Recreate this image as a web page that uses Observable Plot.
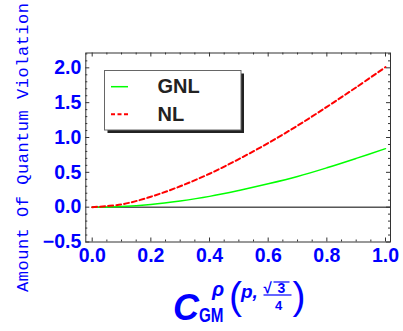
<!DOCTYPE html>
<html><head><meta charset="utf-8">
<script src="https://cdn.jsdelivr.net/npm/d3@7"></script>
<script src="https://cdn.jsdelivr.net/npm/@observablehq/plot@0.6"></script>
<style>body{margin:0;background:#fff} #chart svg{display:block}</style>
</head><body><div id="chart"></div>
<script>
// ---- data ----
const xValues   = [0, 0.1, 0.2, 0.3, 0.4, 0.5, 0.6, 0.7, 0.8, 0.9, 1.0];
const gnlValues = [0, 0.01, 0.04, 0.09, 0.155, 0.24, 0.335, 0.44, 0.565, 0.70, 0.84];
const nlValues  = [0, 0.04, 0.15, 0.30, 0.48, 0.69, 0.92, 1.17, 1.44, 1.72, 2.01];
const seriesNames = ["GNL", "NL"];
const xTicks = [0, 0.2, 0.4, 0.6, 0.8, 1.0];
const xMinorTicks = [0.05, 0.1, 0.15, 0.25, 0.3, 0.35, 0.45, 0.5, 0.55, 0.65, 0.7, 0.75, 0.85, 0.9, 0.95];
const yTicks = [-0.5, 0, 0.5, 1.0, 1.5, 2.0];
const yMinorTicks = [-0.4, -0.3, -0.2, -0.1, 0.1, 0.2, 0.3, 0.4, 0.6, 0.7, 0.8, 0.9, 1.1, 1.2, 1.3, 1.4, 1.6, 1.7, 1.8, 1.9, 2.1, 2.2];
const yLabel = "Amount Of Quantum Violation";

// ---- layout ----
const W = 403, H = 331, mL = 85.3, mR = 13, mT = 52.5, mB = 89.5;
const innerW = W - mL - mR, innerH = H - mT - mB;
const xDomain = [-0.0218, 1.017];
const yDomain = [-0.5, 2.213];
const blue = "#0000ff";
const sans = "'Liberation Sans', Arial, sans-serif";

const gnl = xValues.map((x, i) => ({x, y: gnlValues[i]}));
const nl  = xValues.map((x, i) => ({x, y: nlValues[i]}));
const fmt = d3.format(".1f");
const frameC = "#333";

const chart = Plot.plot({
  width: W, height: H,
  marginLeft: mL, marginRight: mR, marginTop: mT, marginBottom: mB,
  style: {background: "white"},
  x: {domain: xDomain},
  y: {domain: yDomain},
  marks: [
    Plot.ruleY([0], {x1: 0, x2: xDomain[1], stroke: "black", strokeWidth: 1}),
    Plot.line(gnl, {x: "x", y: "y", stroke: "#00ff00", strokeWidth: 1.5, curve: "catmull-rom"}),
    Plot.line(nl, {x: "x", y: "y", stroke: "#ff0000", strokeWidth: 2, strokeDasharray: "5,3", curve: "catmull-rom"}),
    Plot.frame({stroke: frameC}),
    // frame ticks (inward)
    Plot.tickX(xTicks, {x: d => d, insetTop: innerH - 4, stroke: frameC}),
    Plot.tickX(xTicks, {x: d => d, insetBottom: innerH - 4, stroke: frameC}),
    Plot.tickX(xMinorTicks, {x: d => d, insetTop: innerH - 2, stroke: frameC}),
    Plot.tickX(xMinorTicks, {x: d => d, insetBottom: innerH - 2, stroke: frameC}),
    Plot.tickY(yTicks, {y: d => d, insetRight: innerW - 4, stroke: frameC}),
    Plot.tickY(yTicks, {y: d => d, insetLeft: innerW - 4, stroke: frameC}),
    Plot.tickY(yMinorTicks, {y: d => d, insetRight: innerW - 2, stroke: frameC}),
    Plot.tickY(yMinorTicks, {y: d => d, insetLeft: innerW - 2, stroke: frameC}),
    Plot.axisX(xTicks, {tickSize: 0, tickPadding: 6.5, tickFormat: fmt, fontSize: 19.5, fontWeight: "bold", fontFamily: sans, fill: blue, label: null}),
    Plot.axisY(yTicks, {tickSize: 0, tickPadding: 4.5, tickFormat: fmt, fontSize: 19.5, fontWeight: "bold", fontFamily: sans, fill: blue, label: null})
  ]
});
document.getElementById("chart").append(chart);

const svg = d3.select(chart);

// y axis title
svg.append("text")
  .attr("transform", "translate(28,147.5) rotate(-90)")
  .attr("text-anchor", "middle")
  .attr("font-family", "'Liberation Mono', 'DejaVu Sans Mono', monospace")
  .attr("font-size", 17)
  .attr("fill", blue)
  .attr("textLength", 289)
  .attr("lengthAdjust", "spacing")
  .text(yLabel);

// legend
const lg = svg.append("g").attr("text-anchor", "start");
lg.append("rect").attr("x", 107.5).attr("y", 73.5).attr("width", 136.5).attr("height", 59.5).attr("fill", "#222");
lg.append("rect").attr("x", 104.5).attr("y", 70.5).attr("width", 136.5).attr("height", 59.5).attr("fill", "white").attr("stroke", "#666");
lg.append("line").attr("x1", 111).attr("x2", 128).attr("y1", 86.7).attr("y2", 86.7).attr("stroke", "#00ff00").attr("stroke-width", 1.5);
lg.append("line").attr("x1", 111).attr("x2", 129.5).attr("y1", 114.3).attr("y2", 114.3).attr("stroke", "#ff0000").attr("stroke-width", 2).attr("stroke-dasharray", "4,2.5");
lg.append("text").attr("x", 157.5).attr("y", 93).attr("font-family", sans).attr("font-weight", "bold").attr("font-size", 20).attr("fill", "#222").text(seriesNames[0]);
lg.append("text").attr("x", 157.5).attr("y", 120.5).attr("font-family", sans).attr("font-weight", "bold").attr("font-size", 20).attr("fill", "#222").text(seriesNames[1]);

// x axis title: C_GM^{ρ(p, √3/4)}
const xl = svg.append("g").attr("fill", blue).attr("font-family", sans).attr("text-anchor", "start");
xl.append("text").attr("x", 173).attr("y", 320).attr("font-size", 36).attr("font-weight", "bold").attr("font-style", "italic").text("C");
xl.append("text").attr("x", 199).attr("y", 322).attr("font-size", 21).attr("font-weight", "bold")
  .attr("textLength", 24.5).attr("lengthAdjust", "spacingAndGlyphs").text("GM");
xl.append("text").attr("x", 212).attr("y", 296).attr("font-size", 20).attr("font-weight", "bold").attr("font-style", "italic").text("ρ");
xl.append("text").attr("x", 229).attr("y", 308.5).attr("font-size", 39).text("(");
xl.append("text").attr("x", 241).attr("y", 298).attr("font-size", 19).attr("font-weight", "bold").attr("font-style", "italic").text("p,");
xl.append("text").attr("x", 263.5).attr("y", 293).attr("font-size", 15).attr("font-weight", "bold").text("√");
xl.append("text").attr("x", 277.5).attr("y", 293).attr("font-size", 14).attr("font-weight", "bold").text("3");
xl.append("line").attr("x1", 273.5).attr("x2", 289.5).attr("y1", 282).attr("y2", 282).attr("stroke", blue).attr("stroke-width", 1.2);
xl.append("line").attr("x1", 263.5).attr("x2", 291.5).attr("y1", 295).attr("y2", 295).attr("stroke", blue).attr("stroke-width", 1.2);
xl.append("text").attr("x", 278.5).attr("y", 310).attr("text-anchor", "middle").attr("font-size", 13).attr("font-weight", "bold").text("4");
xl.append("text").attr("x", 292.5).attr("y", 308.5).attr("font-size", 39).text(")");
</script>
</body></html>
